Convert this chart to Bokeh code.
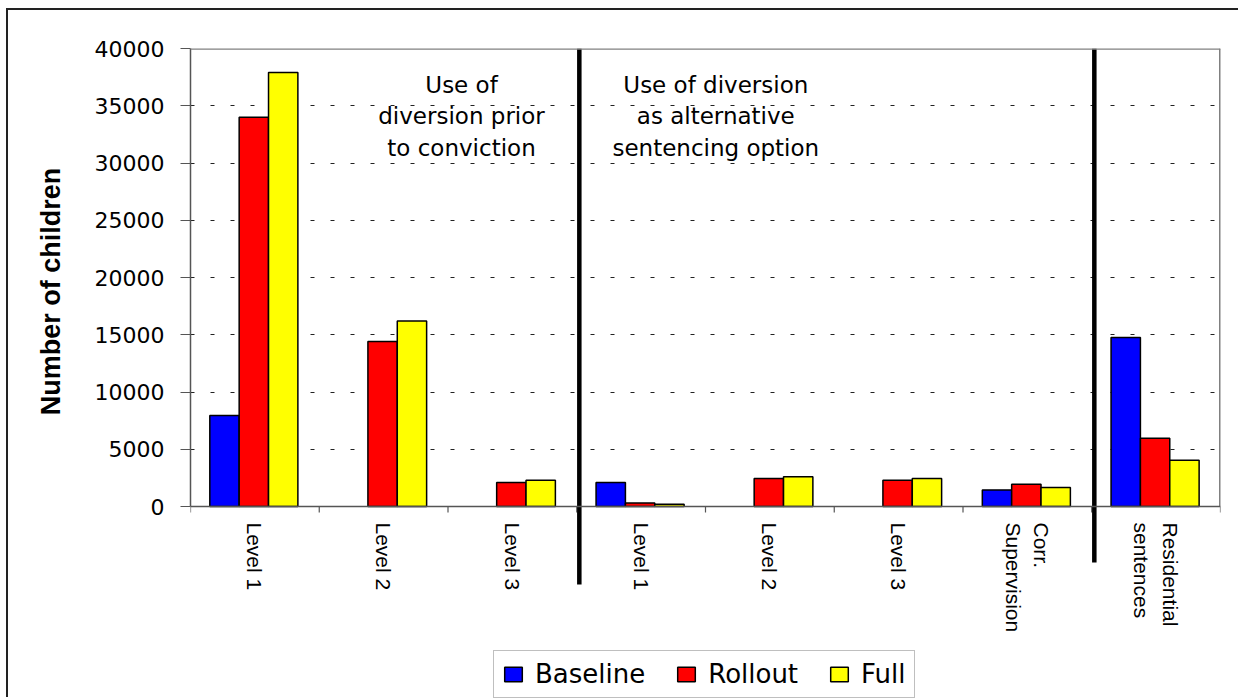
from math import pi, nan
from bokeh.plotting import figure
from bokeh.models import (Range1d, FixedTicker, ColumnDataSource, Legend, LegendItem,
                          Label, Span)
from bokeh.transform import dodge
from bokeh.core.properties import value
from bokeh.embed import file_html
from bokeh.resources import INLINE

# ---------------- data ----------------
categories = ["Level 1", "Level 2", "Level 3",
              "Level 1", "Level 2", "Level 3", "Corr.\nSupervision",
              "Residential\nsentences"]
section_sizes = [3, 4, 1]
section_titles = ["Use of\ndiversion prior\nto conviction",
                  "Use of diversion\nas alternative\nsentencing option"]
series_names = ["Baseline", "Rollout", "Full"]
# nan = no bar shown for that category
baseline = [7950, nan, nan, 2100, nan, nan, 1450, 14750]
rollout = [34000, 14400, 2100, 300, 2450, 2300, 1950, 5950]
full = [37900, 16200, 2300, 200, 2600, 2450, 1650, 4050]
y_ticks = [0, 5000, 10000, 15000, 20000, 25000, 30000, 35000, 40000]
y_title = "Number of children"

# ---------------- styles ----------------
colors = ["#0000FF", "#FF0000", "#FFFF00"]
offsets = [-0.236, -0.008, 0.22]
bar_w = 0.228
H_FONT = "DejaVu Sans"
V_FONT = "Liberation Sans"
FRAME_PX = 458                      # pixel height of the 0..max value band
PX = y_ticks[-1] / FRAME_PX         # data units per pixel
BELOW_PX = 193                      # room under the zero line (labels, legend)
TITLE_LIFT = "\u00a0" * 22          # lifts the y title toward the value band centre

n = len(categories)
centers = [i + 0.5 for i in range(n)]
boundaries = list(range(n + 1))
src = ColumnDataSource(dict(x=centers, Baseline=baseline, Rollout=rollout, Full=full,
                            label=categories))

p = figure(width=1232, height=689, x_range=Range1d(0, n),
           y_range=Range1d(-BELOW_PX * PX, y_ticks[-1]),
           output_backend="svg", toolbar_location=None, x_axis_location=None,
           min_border_left=182, min_border_top=38, min_border_right=20, min_border_bottom=0)
p.styles = {"margin-left": "8px", "margin-top": "10px", "box-shadow": "-2px -2px 0 0 #222"}
p.outline_line_color = None
p.background_fill_color = "white"
p.border_fill_color = "white"

# grid
p.xgrid.visible = False
p.ygrid.ticker = FixedTicker(ticks=y_ticks[1:])
p.ygrid.grid_line_color = "#222"
p.ygrid.grid_line_dash = "4 16"
p.ygrid.grid_line_width = 1

# y axis
ya = p.yaxis[0]
ya.ticker = FixedTicker(ticks=y_ticks)
ya.bounds = (y_ticks[0], y_ticks[-1])
ya.axis_line_color = "#555"
ya.axis_line_width = 1.5
ya.major_tick_out = 10
ya.major_tick_in = 0
ya.major_tick_line_color = "#555"
ya.minor_tick_line_color = None
ya.major_label_text_font = H_FONT
ya.major_label_text_font_size = "22px"
ya.major_label_text_color = "black"
ya.major_label_standoff = 16
ya.axis_label = TITLE_LIFT + y_title
ya.axis_label_text_font = V_FONT
ya.axis_label_text_font_style = "bold"
ya.axis_label_text_font_size = "27px"
ya.axis_label_text_color = "black"
ya.axis_label_standoff = 26

# frame edges (top / right) and the category axis along zero
p.add_layout(Span(location=y_ticks[-1], dimension="width", line_color="#808080", line_width=2.5))
p.segment(x0=[n], y0=[0], x1=[n], y1=[y_ticks[-1]], line_color="#808080", line_width=3)
p.add_layout(Span(location=0, dimension="width", line_color="#555", line_width=1.5))
p.segment(x0=boundaries, y0=[0] * len(boundaries), x1=boundaries,
          y1=[-6 * PX] * len(boundaries), line_color="#555", line_width=1.2)
p.text(x="x", y=-16 * PX, text="label", source=src, angle=-pi / 2,
       text_align="left", text_baseline="middle", text_font=value(V_FONT),
       text_font_size="21px", text_color="black", text_line_height=1.25)

# bars
renderers = []
for name, col, off in zip(series_names, colors, offsets):
    r = p.vbar(x=dodge("x", off, range=p.x_range), top=name, width=bar_w, source=src,
               fill_color=col, line_color="black", line_width=1.5)
    renderers.append(r)

# section dividers
bounds = []
acc = 0
for s in section_sizes[:-1]:
    acc += s
    bounds.append(acc)
divider_shift = 0.02
divider_bottoms = [-78 * PX, -56 * PX]
p.segment(x0=[b + divider_shift for b in bounds], x1=[b + divider_shift for b in bounds],
          y0=[y_ticks[-1]] * len(bounds), y1=divider_bottoms,
          line_color="black", line_width=4.5)

# section titles
title_x = [2.105, 4.08]
for t, tx in zip(section_titles, title_x):
    p.add_layout(Label(x=tx, y=y_ticks[-1] - 68 * PX, text=t, text_align="center",
                       text_baseline="middle", text_font=H_FONT, text_font_size="23px",
                       text_color="black", text_line_height=1.2))

legend = Legend(items=[LegendItem(label=nm, renderers=[r]) for nm, r in zip(series_names, renderers)],
                orientation="horizontal", location=(303, 1),
                label_text_font=H_FONT, label_text_font_size="26px", label_text_color="black",
                glyph_width=22, glyph_height=18, label_standoff=11, spacing=30,
                padding=8, margin=0, border_line_color="#808080", border_line_width=1.5,
                background_fill_color="white", background_fill_alpha=1)
p.add_layout(legend)

open("out.html", "w").write(file_html(p, INLINE))
